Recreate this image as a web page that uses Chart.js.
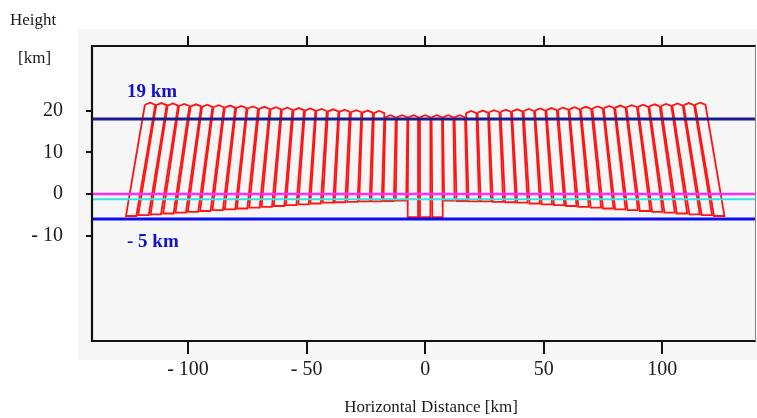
<!DOCTYPE html>
<html><head><meta charset="utf-8">
<script src="https://cdn.jsdelivr.net/npm/chart.js@4.4.0/dist/chart.umd.min.js"></script>
<style>html,body{margin:0;padding:0;background:#fff;overflow:hidden}</style>
</head><body>
<canvas id="c" width="757" height="418"></canvas>
<script>
// ---- data ----
const xTicks = [-100, -50, 0, 50, 100];
const xTickLabels = ['- 100', '- 50', '0', '50', '100'];
const yTicks = [20, 10, 0, -10];
const yTickLabels = ['20', '10', '0', '- 10'];

// 49 radar beams: x at top and bottom of each beam [km], top and bottom height [km]
const beamTopX = [-116.0,-111.2,-106.4,-101.6,-96.7,-91.9,-87.1,-82.3,-77.5,-72.7,-67.8,-63.0,-58.2,-53.3,-48.5,-43.7,-38.8,-34.0,-29.1,-24.3,-19.4,-14.6,-9.7,-4.9,
  0,
  4.9,9.7,14.6,19.4,24.3,29.1,34.0,38.8,43.7,48.5,53.3,58.2,63.0,67.8,72.7,77.5,82.3,87.1,91.9,96.7,101.6,106.4,111.2,116.0];
const beamBotX = [-124.0,-118.8,-113.6,-108.3,-103.1,-97.9,-92.7,-87.5,-82.3,-77.2,-72.0,-66.8,-61.6,-56.5,-51.3,-46.2,-41.0,-35.9,-30.7,-25.6,-20.5,-15.4,-10.2,-5.2,
  0,
  5.2,10.2,15.4,20.5,25.6,30.7,35.9,41.0,46.2,51.3,56.5,61.6,66.8,72.0,77.2,82.3,87.5,92.7,97.9,103.1,108.3,113.6,118.8,124.0];
const beamTopH = [21.4,21.3,21.2,21.1,21.0,20.9,20.8,20.7,20.6,20.5,20.4,20.3,20.2,20.1,20.0,19.9,19.8,19.7,19.6,19.5,19.4,18.4,18.4,18.4,
  18.4,
  18.4,18.4,18.4,19.4,19.5,19.6,19.7,19.8,19.9,20.0,20.1,20.2,20.3,20.4,20.5,20.6,20.7,20.8,20.9,21.0,21.1,21.2,21.3,21.4];
const beamBotH = [-5.3,-5.1,-4.9,-4.7,-4.5,-4.3,-4.1,-3.9,-3.7,-3.5,-3.3,-3.1,-2.9,-2.7,-2.5,-2.3,-2.1,-2.0,-1.9,-1.8,-1.8,-1.7,-1.6,-5.6,
  -5.6,
  -5.6,-1.6,-1.7,-1.8,-1.8,-1.9,-2.0,-2.1,-2.3,-2.5,-2.7,-2.9,-3.1,-3.3,-3.5,-3.7,-3.9,-4.1,-4.3,-4.5,-4.7,-4.9,-5.1,-5.3];

// horizontal reference levels [km]
const levelHeights = [18, 0, -1.3, -6];
const levelColors = ['#1c1c8c', '#ff2cff', '#2ee6e6', '#0c0cf0'];
const levelWidths = [3, 2.5, 2, 3];

// annotations
const annotationTexts = ['19 km', '- 5 km'];
const annotationHeights = [24.5, -11.5];

const X_MIN = -140.5, X_MAX = 139.5, Y_MIN = -35.3, Y_MAX = 35.5;
const HALF_W = 2.2, CAP = 0.5;

const datasets = [];
for (let i = 0; i < beamTopX.length; i++) {
  const pts = [
    {x: beamTopX[i] - HALF_W, y: beamTopH[i]},
    {x: beamTopX[i], y: beamTopH[i] + CAP},
    {x: beamTopX[i] + HALF_W, y: beamTopH[i]},
    {x: beamBotX[i] + HALF_W, y: beamBotH[i]},
    {x: beamBotX[i] - HALF_W, y: beamBotH[i]},
    {x: beamTopX[i] - HALF_W, y: beamTopH[i]}
  ];
  datasets.push({data: pts, showLine: true, borderColor: '#ff1414', borderWidth: 1.8,
    pointRadius: 0, fill: false, tension: 0, order: 2});
}
levelHeights.forEach((h, i) => {
  datasets.push({data: [{x: X_MIN, y: h}, {x: X_MAX, y: h}], showLine: true,
    borderColor: levelColors[i], borderWidth: levelWidths[i], pointRadius: 0, fill: false, order: 1});
});

const SERIF = '"Liberation Serif", "DejaVu Serif", serif';

const framePlugin = {
  id: 'frame',
  beforeDatasetsDraw(chart) {
    const ctx = chart.ctx;
    ctx.save();
    ctx.fillStyle = '#f6f6f6';
    ctx.fillRect(78, 29, 757 - 78, 360 - 29);
    ctx.restore();
  },
  afterDatasetsDraw(chart) {
    const ctx = chart.ctx, a = chart.chartArea;
    const xs = chart.scales.x, ys = chart.scales.y;
    ctx.save();
    // box
    ctx.strokeStyle = '#111';
    ctx.lineWidth = 2.2;
    ctx.beginPath();
    ctx.moveTo(a.right, a.top); ctx.lineTo(a.left, a.top); ctx.lineTo(a.left, a.bottom); ctx.lineTo(a.right, a.bottom);
    ctx.stroke();
    ctx.strokeStyle = '#888';
    ctx.lineWidth = 1;
    ctx.beginPath(); ctx.moveTo(a.right - 0.5, a.top); ctx.lineTo(a.right - 0.5, a.bottom); ctx.stroke();
    // ticks
    ctx.strokeStyle = '#111';
    ctx.lineWidth = 2;
    xTicks.forEach(v => {
      const px = Math.round(xs.getPixelForValue(v));
      ctx.beginPath(); ctx.moveTo(px, a.top - 10); ctx.lineTo(px, a.top); ctx.stroke();
      ctx.beginPath(); ctx.moveTo(px, a.bottom); ctx.lineTo(px, a.bottom + 13); ctx.stroke();
    });
    yTicks.forEach(v => {
      const py = Math.round(ys.getPixelForValue(v));
      ctx.beginPath(); ctx.moveTo(a.left - 6, py); ctx.lineTo(a.left, py); ctx.stroke();
    });
    // tick labels
    ctx.fillStyle = '#1a1a1a';
    ctx.font = '20px ' + SERIF;
    ctx.textAlign = 'center'; ctx.textBaseline = 'middle';
    xTicks.forEach((v, i) => ctx.fillText(xTickLabels[i], xs.getPixelForValue(v), 370));
    ctx.textAlign = 'right';
    yTicks.forEach((v, i) => ctx.fillText(yTickLabels[i], 63, ys.getPixelForValue(v)));
    // axis titles
    ctx.font = '17px ' + SERIF;
    ctx.textAlign = 'left';
    ctx.fillText('Height', 10, 21);
    ctx.fillText('[km]', 18, 59);
    ctx.textAlign = 'center';
    ctx.fillText('Horizontal Distance [km]', 431, 408);
    // annotations
    ctx.fillStyle = '#1212c8';
    ctx.font = 'bold 19px ' + SERIF;
    ctx.textAlign = 'left';
    annotationTexts.forEach((t, i) => ctx.fillText(t, 127, ys.getPixelForValue(annotationHeights[i])));
    ctx.restore();
  }
};

new Chart(document.getElementById('c'), {
  type: 'scatter',
  data: {datasets},
  options: {
    responsive: false, animation: false, devicePixelRatio: 1,
    layout: {padding: {left: 92, top: 46, right: 1, bottom: 77}},
    plugins: {legend: {display: false}, tooltip: {enabled: false}},
    scales: {
      x: {type: 'linear', min: X_MIN, max: X_MAX, display: false},
      y: {type: 'linear', min: Y_MIN, max: Y_MAX, display: false}
    }
  },
  plugins: [framePlugin]
});
</script>
</body></html>
